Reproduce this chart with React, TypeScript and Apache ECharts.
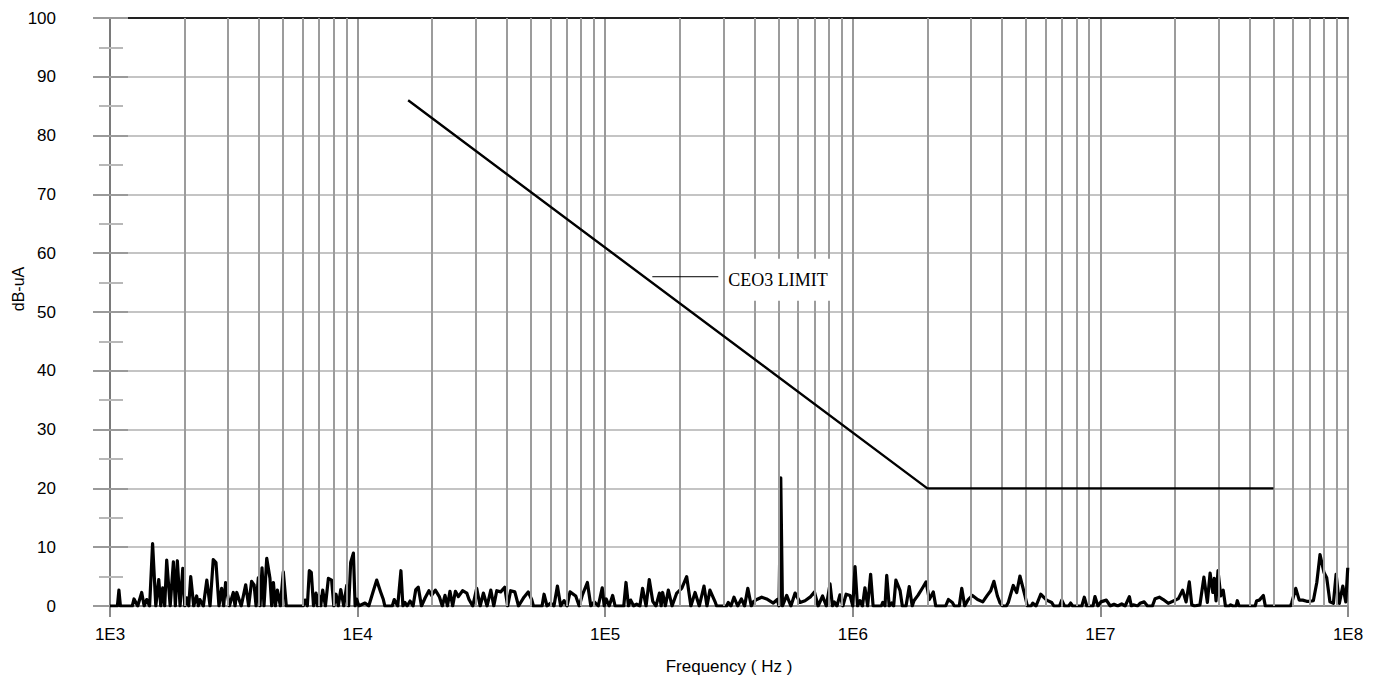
import React, { useEffect, useRef } from "react";
import * as echarts from "echarts";

// ---- axis definitions ----
const xMinHz = 1e3;
const xMaxHz = 1e8;
const minorMultipliers = [2, 3, 4, 5, 6, 7, 8, 9];
const decadeStartsHz = [1e3, 1e4, 1e5, 1e6, 1e7];
const yMin = 0;
const yMax = 100;
const yStep = 10;
const xAxisTitle = "Frequency ( Hz )";
const yAxisTitle = "dB-uA";

// ---- CE03 limit line ----
const limitFreqHz = [1.6e4, 2e6, 5e7];
const limitDb = [86, 20, 20];
const limitLabel = "CEO3 LIMIT";
const limitLabelAnchor = [1.55e5, 56];

// ---- measured emission trace: [log10(Hz), dB-uA] ----
const noiseDecade3: [number, number][] = [
  [3.0, 0], [3.03, 0], [3.036, 2.7], [3.042, 0], [3.09, 0], [3.097, 1.2], [3.112, 0], [3.128, 2.3], [3.138, 0],
  [3.148, 1.1], [3.16, 0], [3.172, 10.6], [3.185, 0], [3.197, 4.5], [3.205, 0], [3.213, 3.1], [3.221, 0],
  [3.229, 7.8], [3.243, 0], [3.256, 7.5], [3.264, 0], [3.272, 7.7], [3.283, 0], [3.294, 6.4], [3.302, 0],
  [3.31, 1.4], [3.318, 0], [3.326, 5.0], [3.338, 0], [3.35, 1.7], [3.357, 0], [3.363, 1.1], [3.377, 0],
  [3.391, 4.4], [3.404, 0], [3.417, 7.9], [3.428, 7.4], [3.44, 0], [3.451, 3.0], [3.459, 0], [3.467, 4.0],
  [3.482, 0], [3.498, 2.3], [3.505, 0], [3.512, 2.3], [3.53, 0], [3.548, 3.6], [3.56, 0], [3.572, 4.2],
  [3.582, 3.6], [3.59, 0], [3.599, 4.8], [3.606, 0], [3.614, 6.5], [3.622, 0], [3.633, 8.1], [3.646, 4.7],
  [3.653, 0], [3.66, 4.0], [3.668, 0], [3.676, 2.7], [3.688, 0], [3.7, 5.8], [3.712, 0], [3.78, 0],
  [3.788, 1.0], [3.797, 0], [3.805, 6.0], [3.813, 5.7], [3.822, 0], [3.832, 2.2], [3.838, 0], [3.843, 1.8],
  [3.851, 0], [3.859, 2.7], [3.87, 0], [3.882, 4.7], [3.895, 4.4], [3.904, 0], [3.913, 2.0], [3.922, 0],
  [3.932, 2.8], [3.944, 0], [3.956, 3.5], [3.964, 0], [3.972, 7.4], [3.983, 9.0], [3.99, 0], [3.996, 1.2],
  [4.005, 0],
];
const noiseDecade4: [number, number][] = [
  [4.03, 0.5], [4.045, 0], [4.061, 2.2], [4.077, 4.4], [4.093, 2.4], [4.104, 1.1], [4.11, 0], [4.14, 0],
  [4.148, 1.1], [4.162, 0], [4.175, 6.0], [4.183, 0], [4.191, 0.6], [4.2, 0], [4.212, 0.85], [4.224, 0],
  [4.235, 2.8], [4.245, 3.2], [4.258, 0], [4.273, 1.4], [4.288, 2.6], [4.299, 1.8], [4.314, 2.7], [4.33, 1.6],
  [4.342, 0], [4.353, 1.8], [4.363, 0], [4.373, 2.5], [4.384, 0], [4.395, 2.5], [4.407, 1.6], [4.424, 2.6],
  [4.441, 2.2], [4.45, 1.1], [4.465, 0], [4.481, 3.0], [4.495, 0], [4.508, 2.2], [4.523, 0], [4.538, 2.7],
  [4.55, 0], [4.562, 2.6], [4.578, 2.4], [4.594, 3.2], [4.606, 0], [4.618, 2.6], [4.635, 2.4], [4.65, 0],
  [4.672, 1.5], [4.689, 2.4], [4.703, 1.1], [4.71, 0], [4.745, 0], [4.753, 2.0], [4.765, 0], [4.78, 0.5],
  [4.793, 0], [4.807, 3.4], [4.82, 0], [4.834, 0.9], [4.846, 0], [4.858, 2.4], [4.881, 1.7], [4.895, 0],
  [4.908, 1.9], [4.928, 4.0], [4.942, 0], [4.956, 0.7], [4.972, 0], [4.988, 3.1], [4.996, 0],
];
const noiseDecade5: [number, number][] = [
  [5.004, 1.2], [5.016, 0], [5.03, 1.8], [5.04, 0], [5.075, 0], [5.084, 4.0], [5.094, 0], [5.103, 1.0],
  [5.115, 0], [5.127, 0.3], [5.14, 0], [5.151, 3.0], [5.165, 0], [5.178, 4.5], [5.192, 0.8], [5.205, 0],
  [5.219, 2.2], [5.226, 0], [5.232, 2.3], [5.243, 0], [5.255, 2.7], [5.27, 0], [5.289, 2.2], [5.309, 3.0],
  [5.329, 5.0], [5.346, 0], [5.363, 2.3], [5.38, 0], [5.399, 3.4], [5.411, 0], [5.423, 2.7], [5.443, 0.8],
  [5.45, 0], [5.49, 0], [5.497, 0.6], [5.508, 0], [5.52, 1.5], [5.535, 0], [5.55, 1.2], [5.563, 0],
  [5.576, 3.0], [5.59, 0], [5.598, 0.7], [5.612, 1.1], [5.632, 1.5], [5.652, 1.2], [5.679, 0.5], [5.695, 1.1],
  [5.702, 0], [5.709, 21.8], [5.716, 0], [5.733, 1.8], [5.75, 0], [5.767, 2.2], [5.787, 0.6], [5.807, 0.9],
  [5.83, 1.6], [5.845, 2.4], [5.86, 0], [5.878, 1.7], [5.893, 0], [5.908, 3.75], [5.918, 0], [5.925, 0.7],
  [5.936, 0], [5.948, 1.9], [5.96, 0], [5.973, 2.0], [5.989, 1.8], [6.0, 0], [6.009, 6.7], [6.019, 0],
];
const noiseDecade6: [number, number][] = [
  [6.029, 0.9], [6.039, 0], [6.049, 3.1], [6.06, 0], [6.072, 5.4], [6.082, 0], [6.115, 0], [6.121, 0.6],
  [6.13, 0], [6.137, 5.2], [6.147, 0], [6.157, 0.5], [6.165, 0], [6.174, 4.4], [6.191, 2.6], [6.2, 0],
  [6.215, 0], [6.228, 3.3], [6.24, 0], [6.247, 0.9], [6.263, 1.8], [6.282, 3.1], [6.296, 4.1], [6.309, 1.1],
  [6.325, 2.4], [6.335, 0], [6.375, 0], [6.386, 1.1], [6.402, 0.6], [6.41, 0], [6.43, 0], [6.44, 3.0],
  [6.452, 0], [6.466, 1.1], [6.483, 1.8], [6.504, 1.1], [6.525, 0.7], [6.543, 1.8], [6.557, 2.6], [6.57, 4.2],
  [6.584, 1.7], [6.595, 0.5], [6.605, 0], [6.62, 0], [6.628, 0.6], [6.648, 3.5], [6.662, 2.3], [6.675, 5.1],
  [6.695, 1.8], [6.705, 0], [6.72, 0], [6.727, 0.5], [6.74, 0], [6.759, 2.0], [6.783, 1.0], [6.803, 0.6],
  [6.812, 0], [6.835, 0], [6.844, 1.0], [6.855, 0], [6.872, 0], [6.88, 0.5], [6.888, 0], [6.925, 0],
  [6.935, 1.5], [6.945, 0], [6.97, 0], [6.978, 1.6], [6.99, 0],
];
const noiseDecade7: [number, number][] = [
  [7.002, 0.7], [7.024, 1.0], [7.04, 0], [7.055, 0.3], [7.07, 0], [7.086, 0.35], [7.1, 0], [7.117, 1.6],
  [7.125, 0], [7.133, 0.2], [7.15, 0], [7.16, 0.45], [7.177, 0.7], [7.19, 0], [7.21, 0], [7.221, 1.25],
  [7.238, 1.5], [7.254, 1.1], [7.274, 0.45], [7.297, 0.9], [7.315, 1.25], [7.332, 2.7], [7.346, 0.7],
  [7.359, 4.1], [7.369, 0.2], [7.38, 0], [7.402, 0.2], [7.418, 4.9], [7.432, 0.6], [7.443, 5.6], [7.454, 2.3],
  [7.46, 4.7], [7.467, 0.85], [7.475, 6.0], [7.486, 1.7], [7.496, 2.7], [7.505, 0], [7.52, 0], [7.526, 0.2],
  [7.535, 0], [7.548, 0], [7.553, 0.9], [7.56, 0], [7.625, 0], [7.631, 0.9], [7.642, 1.0], [7.658, 1.8],
  [7.666, 0], [7.768, 0], [7.773, 0.6], [7.789, 3.0], [7.803, 1.0], [7.817, 1.0], [7.833, 0.8], [7.847, 0.8],
  [7.86, 0.9], [7.874, 4.0], [7.887, 8.75], [7.903, 5.7], [7.914, 4.8], [7.927, 0.7], [7.941, 0.45],
  [7.952, 5.4], [7.965, 0.45], [7.979, 3.4], [7.991, 0.7], [7.999, 6.5],
];

const SANS = '"Liberation Sans", Arial, sans-serif';
const SERIF = '"Liberation Serif", "Times New Roman", serif';
const GRID_RECT = { left: 110, right: 34, top: 18, bottom: 83, containLabel: false };

export default function App() {
  const ref = useRef<HTMLDivElement>(null);

  useEffect(() => {
    document.body.style.margin = "0";
    if (!ref.current) return;
    const chart = echarts.init(ref.current, null, { renderer: "svg" });

    const noise = [...noiseDecade3, ...noiseDecade4, ...noiseDecade5, ...noiseDecade6, ...noiseDecade7].map(
      ([e, v]) => [Math.pow(10, e), v]
    );
    const limit = limitFreqHz.map((f, i) => [f, limitDb[i]]);
    const minorGrid: { xAxis: number }[] = [];
    decadeStartsHz.forEach((d) => minorMultipliers.forEach((m) => minorGrid.push({ xAxis: m * d })));

    const yCommon = { type: "value" as const, min: yMin, max: yMax, interval: yStep };
    const xCommon = { type: "log" as const, logBase: 10, min: xMinHz, max: xMaxHz, splitNumber: 5 };

    chart.setOption({
      animation: false,
      backgroundColor: "#ffffff",
      grid: [
        { ...GRID_RECT, show: true, borderColor: "#7a7a7a", borderWidth: 2, backgroundColor: "transparent" },
        { ...GRID_RECT, show: false },
      ],
      xAxis: [
        {
          ...xCommon,
          gridIndex: 0,
          position: "bottom",
          name: xAxisTitle,
          nameLocation: "middle",
          nameGap: 52,
          nameTextStyle: { fontFamily: SANS, fontSize: 17, color: "#000" },
          axisLine: { show: true, lineStyle: { color: "#8a8a8a", width: 2 } },
          axisTick: { show: true, length: 11, lineStyle: { color: "#8a8a8a", width: 2 } },
          axisLabel: {
            fontFamily: SANS,
            fontSize: 17,
            color: "#000",
            margin: 20,
            formatter: (v: number) => "1E" + Math.round(Math.log10(v)),
          },
          splitLine: { show: true, lineStyle: { color: "#999999", width: 2 } },
        },
        {
          ...xCommon,
          gridIndex: 0,
          position: "top",
          axisLine: { show: true, lineStyle: { color: "#222222", width: 2 } },
          axisTick: { show: false },
          axisLabel: { show: false },
          splitLine: { show: false },
        },
        {
          ...xCommon,
          gridIndex: 1,
          show: false,
        },
      ],
      yAxis: [
        {
          ...yCommon,
          gridIndex: 0,
          position: "left",
          axisLine: { show: true, lineStyle: { color: "#7a7a7a", width: 2 } },
          axisTick: { show: true, inside: false, length: 17, lineStyle: { color: "#9a9a9a", width: 2 } },
          minorTick: { show: true, splitNumber: 2, length: 11, lineStyle: { color: "#b8b8b8", width: 2 } },
          axisLabel: {
            fontFamily: SANS,
            fontSize: 17,
            color: "#000",
            margin: 54,
            align: "right",
            verticalAlign: "middle",
          },
          splitLine: { show: true, lineStyle: { color: "#c4c4c4", width: 2 } },
        },
        {
          ...yCommon,
          gridIndex: 1,
          position: "left",
          axisLine: { show: false },
          axisTick: { show: true, inside: true, length: 18, lineStyle: { color: "#9a9a9a", width: 2 } },
          minorTick: { show: true, splitNumber: 2, length: 13, lineStyle: { color: "#b8b8b8", width: 2 } },
          axisLabel: { show: false },
          splitLine: { show: false },
        },
      ],
      series: [
        {
          name: "minor grid",
          type: "line",
          xAxisIndex: 0,
          yAxisIndex: 0,
          data: [],
          z: 1,
          silent: true,
          markLine: {
            silent: true,
            symbol: ["none", "none"],
            label: { show: false },
            lineStyle: { color: "#9c9c9c", width: 2, type: "solid" },
            emphasis: { disabled: true },
            data: minorGrid,
          },
        },
        {
          name: "emission",
          type: "line",
          xAxisIndex: 0,
          yAxisIndex: 0,
          data: noise,
          showSymbol: false,
          symbol: "none",
          z: 4,
          lineStyle: { color: "#000", width: 3.2, join: "round" },
        },
        {
          name: "limit",
          type: "line",
          xAxisIndex: 0,
          yAxisIndex: 0,
          data: limit,
          showSymbol: false,
          symbol: "none",
          z: 5,
          lineStyle: { color: "#000", width: 2.4 },
        },
      ],
    });

    const p = chart.convertToPixel({ xAxisIndex: 0, yAxisIndex: 0 }, limitLabelAnchor) as number[];
    chart.setOption({
      graphic: [
        {
          type: "line",
          z: 10,
          shape: { x1: p[0], y1: p[1], x2: p[0] + 66, y2: p[1] },
          style: { stroke: "#000", lineWidth: 1 },
        },
        {
          type: "text",
          z: 10,
          x: p[0] + 73,
          y: p[1] + 3,
          style: {
            text: limitLabel,
            font: `18px ${SERIF}`,
            fill: "#000",
            textAlign: "left",
            textVerticalAlign: "middle",
            backgroundColor: "#ffffff",
            padding: [12, 12, 12, 3],
          },
        },
        {
          type: "text",
          z: 10,
          x: 18,
          y: 289,
          rotation: Math.PI / 2,
          style: {
            text: yAxisTitle,
            font: `16px ${SANS}`,
            fill: "#000",
            textAlign: "center",
            textVerticalAlign: "middle",
          },
        },
      ],
    });

    return () => chart.dispose();
  }, []);

  return <div ref={ref} style={{ width: 1382, height: 689 }} />;
}
